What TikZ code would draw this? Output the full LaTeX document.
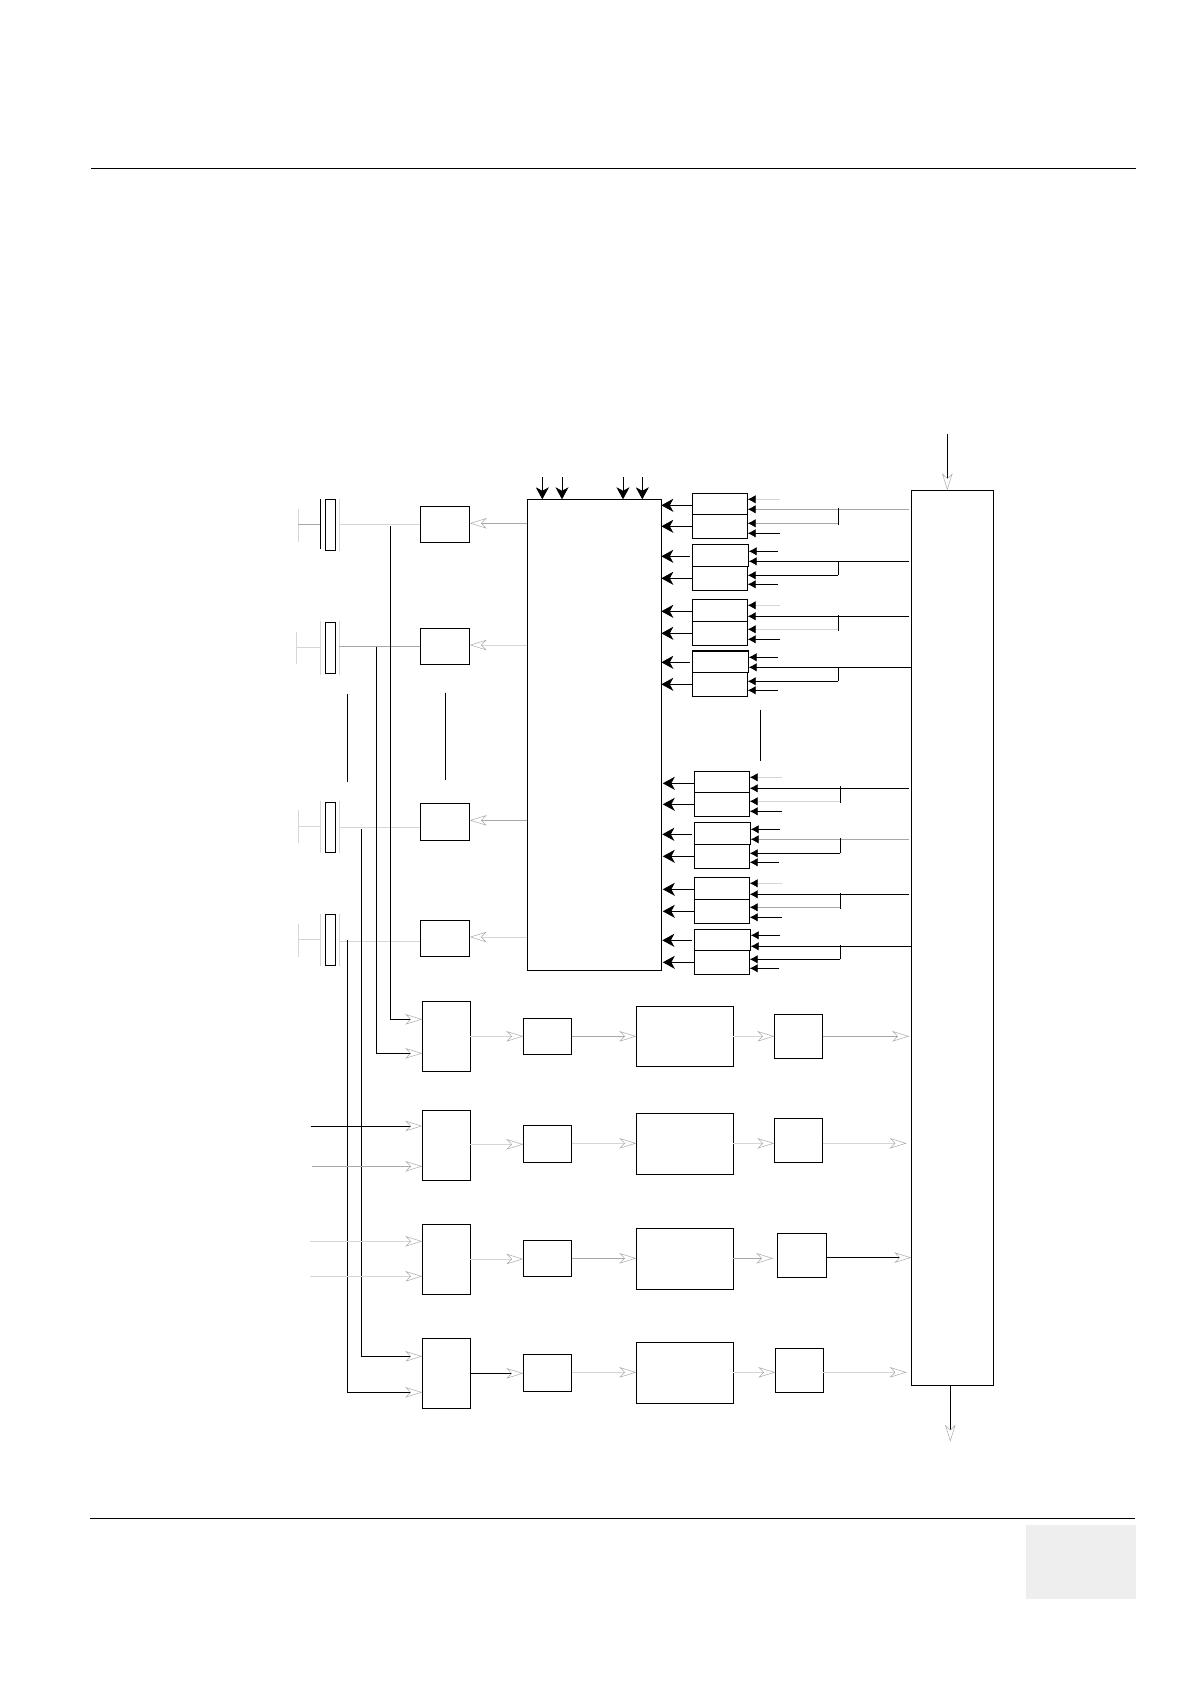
\documentclass[tikz,border=0pt]{standalone}
\usetikzlibrary{arrows.meta}
\definecolor{lite}{gray}{0.84}
\definecolor{mid}{gray}{0.66}
\definecolor{tabgray}{gray}{0.935}
\newcommand{\bx}[5]{% name x1 y1 x2 y2
  \pgfmathsetlengthmacro{\bxw}{(#4-#2)*1pt}%
  \pgfmathsetlengthmacro{\bxh}{(#5-#3)*1pt}%
  \node[blockbox,minimum width=\bxw,minimum height=\bxh] (#1) at ({(#2+#4)/2},{(#3+#5)/2}) {};}
\tikzset{
  blockbox/.style={draw=black,line width=0.85pt,fill=none,inner sep=0pt,outer sep=0pt},
  wire/.style={draw=black,line width=0.85pt},
  rulewire/.style={draw=black,line width=1.1pt},
  litewire/.style={draw=lite,line width=0.8pt},
  midwire/.style={draw=mid,line width=0.8pt},
  solidtip/.style={-{Stealth[length=12pt,width=13pt,inset=3.5pt,black]}},
  smalltip/.style={-{Latex[length=8pt,width=8.5pt,black]}},
  opentip/.style={-{Stealth[open,length=17pt,width=10.5pt,inset=5pt,color=mid,line width=0.5pt]}},
}
\begin{document}
\begin{tikzpicture}[x=1pt,y=-1pt]
\useasboundingbox (0,0) rectangle (1190,1684);
% page rules and tab
\coordinate (ruleTL) at (91,168.3);
\coordinate (ruleTR) at (1136,168.3);
\coordinate (ruleBL) at (90,1518.3);
\coordinate (ruleBR) at (1135,1518.3);
\draw[rulewire] (ruleTL) -- (ruleTR);
\draw[rulewire] (ruleBL) -- (ruleBR);
\node[fill=tabgray,draw=none,inner sep=0pt,minimum width=110pt,minimum height=74pt] (tab) at (1081,1562) {};

% main blocks
\bx{dsp}{527.3}{499.3}{661.3}{970.3}
\bx{ctl}{911.3}{490.3}{993.3}{1385.3}

% transducer elements
\bx{e1}{325.3}{499.3}{335.7}{550.3}
\bx{e2}{325.3}{622.3}{335.7}{673.3}
\bx{e3}{325.3}{802.3}{335.7}{852.3}
\bx{e4}{325.3}{914.3}{335.7}{965.7}
% drivers
\bx{d1}{420.3}{506.3}{469.7}{542.3}
\bx{d2}{420.3}{628.3}{469.7}{664.3}
\bx{d3}{420.3}{803.3}{469.7}{840.3}
\bx{d4}{420.3}{920.3}{469.7}{956.3}

% plates beside the elements
\coordinate (p1lt) at (320.3,499); \coordinate (p1lb) at (320.3,549);
\coordinate (p1rt) at (339.3,499); \coordinate (p1rb) at (339.3,551);
\coordinate (p2lt) at (320.3,621); \coordinate (p2lb) at (320.3,675);
\coordinate (p2rt) at (339.3,621); \coordinate (p2rb) at (339.3,675);
\coordinate (p3lt) at (320.3,801); \coordinate (p3lb) at (320.3,853);
\coordinate (p3rt) at (339.3,801); \coordinate (p3rb) at (339.3,853);
\coordinate (p4lt) at (320.3,914); \coordinate (p4lb) at (320.3,966);
\coordinate (p4rt) at (339.3,914); \coordinate (p4rb) at (339.3,966);
\draw[wire] (p1lt) -- (p1lb);
\foreach \n in {p1r,p2l,p2r,p3l,p3r,p4l,p4r} \draw[litewire] (\n t) -- (\n b);
% left T stubs
\coordinate (t1t) at (298.3,509); \coordinate (t1b) at (298.3,542); \coordinate (t1m) at (298.3,524.3);
\coordinate (t2t) at (296.3,632); \coordinate (t2b) at (296.3,664); \coordinate (t2m) at (296.3,647.3);
\coordinate (t3t) at (298.3,810); \coordinate (t3b) at (298.3,843.3); \coordinate (t3m) at (298.3,826.7);
\coordinate (t4t) at (298.3,924); \coordinate (t4b) at (298.3,956.7); \coordinate (t4m) at (298.3,939.3);
\foreach \n in {1,2,3,4} \draw[litewire] (t\n t) -- (t\n b);
\draw[midwire] (t1m) -- (p1lt |- t1m);
\draw[litewire] (t2m) -- (p2lt |- t2m);
\draw[litewire] (t3m) -- (p3lt |- t3m);
\draw[litewire] (t4m) -- (p4lt |- t4m);
% plate to driver
\draw[litewire] (p1rt |- 0,524.7) -- (d1.west |- 0,524.7);
\draw[midwire] (p2rt |- 0,646.7) -- (d2.west |- 0,646.7);
\draw[litewire] (p3rt |- 0,827.3) -- (d3.west |- 0,827.3);
\draw[litewire] (p4rt |- 0,941) -- (d4.west |- 0,941);
% dsp to drivers
\draw[midwire,opentip] (dsp.west |- 0,523.3) -- (d1.east |- 0,523.3);
\draw[litewire,opentip] (dsp.west |- 0,645) -- (d2.east |- 0,645);
\draw[midwire,opentip] (dsp.west |- 0,820.3) -- (d3.east |- 0,820.3);
\draw[litewire,opentip] (dsp.west |- 0,937) -- (d4.east |- 0,937);

% top inputs of dsp
\foreach \x/\n in {542.3/a,562/b,623/c,642.3/d}{
  \coordinate (top\n) at (\x,477.3);
  \draw[wire,solidtip] (top\n) -- (top\n |- dsp.north);
}

% continuation marks
\coordinate (m1a) at (347.3,694); \coordinate (m1b) at (347.3,781.7);
\coordinate (m2a) at (445.3,692.7); \coordinate (m2b) at (445.3,780);
\coordinate (m3a) at (760.3,709.7); \coordinate (m3b) at (760.3,761);
\draw[wire] (m1a) -- (m1b);
\draw[wire] (m2a) -- (m2b);
\draw[wire] (m3a) -- (m3b);

% amp rows
\bx{m1}{422.3}{1001.3}{470.3}{1071.3}
\bx{m2}{422.3}{1110.3}{470.3}{1180.3}
\bx{m3}{422.3}{1224.3}{470.3}{1294.3}
\bx{m4}{422.3}{1338.3}{470.3}{1408.3}
\bx{s1}{523.3}{1018.3}{571.7}{1054.3}
\bx{s2}{523.3}{1125.3}{571.7}{1162.3}
\bx{s3}{523.3}{1240.3}{571.7}{1276.3}
\bx{s4}{523.3}{1354.3}{571.7}{1391.3}
\bx{l1}{636.3}{1006.3}{733.3}{1066.3}
\bx{l2}{636.3}{1113.3}{733.3}{1174.3}
\bx{l3}{636.3}{1228.3}{733.3}{1289.3}
\bx{l4}{636.3}{1342.3}{733.3}{1403.3}
\bx{r1}{774.3}{1014.3}{822.7}{1058.3}
\bx{r2}{774.3}{1118.3}{822.7}{1162.3}
\bx{r3}{777.3}{1233.3}{826.3}{1277.3}
\bx{r4}{775.3}{1348.3}{823.3}{1392.3}

% bus lines from the plates into the amps
\coordinate (b1) at (390.3,526);
\coordinate (b2) at (376.3,646.7);
\coordinate (b3) at (361.3,829);
\coordinate (b4) at (347.3,940.3);
\draw[wire,opentip] (b1) -- (b1 |- 0,1019.3) -- (m1.west |- 0,1019.3);
\draw[wire,opentip] (b2) -- (b2 |- 0,1053.3) -- (m1.west |- 0,1053.3);
\draw[wire,opentip] (b3) -- (b3 |- 0,1356.3) -- (m4.west |- 0,1356.3);
\draw[wire,opentip] (b4) -- (b4 |- 0,1392.3) -- (m4.west |- 0,1392.3);
% external amp inputs
\coordinate (x2a) at (310.7,1126); \coordinate (x2b) at (312,1166.3);
\coordinate (x3a) at (310,1241.3); \coordinate (x3b) at (310,1276.3);
\draw[wire,opentip] (x2a) -- (m2.west |- x2a);
\draw[midwire,opentip] (x2b) -- (m2.west |- x2b);
\draw[litewire,opentip] (x3a) -- (m3.west |- x3a);
\draw[litewire,opentip] (x3b) -- (m3.west |- x3b);

% row links
\draw[litewire,opentip] (m1.east |- 0,1036.3) -- (s1.west |- 0,1036.3);
\draw[litewire,opentip] (m2.east |- 0,1144.3) -- (s2.west |- 0,1144.3);
\draw[litewire,opentip] (m3.east |- 0,1259) -- (s3.west |- 0,1259);
\draw[wire,opentip] (m4.east |- 0,1373.3) -- (s4.west |- 0,1373.3);
\draw[midwire,opentip] (s1.east |- 0,1036.3) -- (l1.west |- 0,1036.3);
\draw[litewire,opentip] (s2.east |- 0,1143.3) -- (l2.west |- 0,1143.3);
\draw[midwire,opentip] (s3.east |- 0,1258.3) -- (l3.west |- 0,1258.3);
\draw[litewire,opentip] (s4.east |- 0,1372.3) -- (l4.west |- 0,1372.3);
\draw[litewire,opentip] (l1.east |- 0,1036.3) -- (r1.west |- 0,1036.3);
\draw[litewire,opentip] (l2.east |- 0,1143.3) -- (r2.west |- 0,1143.3);
\draw[midwire,opentip] (l3.east |- 0,1258.3) -- ([xshift=-4pt]r3.west |- 0,1258.3);
\draw[litewire,opentip] (l4.east |- 0,1372.3) -- (r4.west |- 0,1372.3);
\draw[midwire,opentip] (r1.east |- 0,1036.3) -- ([xshift=-2pt]ctl.west |- 0,1036.3);
\draw[litewire,opentip] (r2.east |- 0,1143.3) -- ([xshift=-4.6pt]ctl.west |- 0,1143.3);
\draw[wire,opentip] (r3.east |- 0,1257.6) -- (ctl.west |- 0,1257.6);
\draw[litewire,opentip] (r4.east |- 0,1372.3) -- ([xshift=-4.6pt]ctl.west |- 0,1372.3);

% control block in / out
\coordinate (ctlin) at (947.3,434);
\coordinate (ctlout) at (950.3,1441.7);
\draw[wire,opentip] (ctlin) -- (ctlin |- ctl.north);
\draw[wire,opentip] (ctl.south -| ctlout) -- (ctlout);

% register groups
\bx{g1a}{692.3}{493.3}{747.7}{514.3}  \bx{g1b}{692.3}{514.3}{747.7}{538.3}
\bx{g2a}{692.3}{544.3}{748.7}{566.3}  \bx{g2b}{692.3}{566.3}{747.7}{590.3}
\bx{g3a}{692.3}{599.3}{747.7}{621.3}  \bx{g3b}{692.3}{621.3}{747.7}{645.3}
\bx{g4a}{692.3}{650.9}{748.7}{672.3}  \bx{g4b}{692.3}{672.3}{747.7}{696.3}
\bx{g5a}{694.3}{771.3}{749.7}{792.3}  \bx{g5b}{694.3}{792.3}{749.7}{816.3}
\bx{g6a}{694.3}{822.3}{750.7}{844.3}  \bx{g6b}{694.3}{844.3}{749.7}{868.3}
\bx{g7a}{694.3}{877.3}{749.7}{899.3}  \bx{g7b}{694.3}{899.3}{749.7}{923.3}
\bx{g8a}{694.3}{929.3}{750.7}{950.3}  \bx{g8b}{694.3}{950.3}{749.7}{974.3}
\draw[line width=1.6pt] (g4a.north west) -- (g4a.north east);

% outputs to dsp
\foreach \g/\y in {g1a/505.3,g1b/526.3,g2b/578.3,g3a/611.3,g3b/633.3,g4b/684.3}
  \draw[wire,solidtip] (\g.west |- 0,\y) -- (dsp.east |- 0,\y);
\foreach \g/\y in {g5a/783.3,g5b/804.3,g6b/856.3,g7a/889.3,g7b/911.3,g8b/962.3}
  \draw[wire,solidtip] (\g.west |- 0,\y) -- ([xshift=1.5pt]dsp.east |- 0,\y);
\draw[wire,solidtip] ([xshift=-2.5pt]g2a.west |- 0,556.3) -- (dsp.east |- 0,556.3);
\draw[wire,solidtip] ([xshift=-2.5pt]g4a.west |- 0,662.3) -- (dsp.east |- 0,662.3);
\draw[wire,solidtip] ([xshift=-2.5pt]g6a.west |- 0,834.3) -- ([xshift=1pt]dsp.east |- 0,834.3);
\draw[wire,solidtip] ([xshift=-2.5pt]g8a.west |- 0,940.3) -- ([xshift=1pt]dsp.east |- 0,940.3);

% short free inputs: group/y/free-end x/style
\foreach \g/\y/\xe/\st in {
  g1a/499.3/780/litewire, g1b/533.3/780/wire,
  g2a/551.3/778/wire, g2b/584.3/778/wire,
  g3a/605.3/780/litewire, g3b/639.3/780/wire,
  g4a/657.3/778/wire, g4b/690.3/778/wire,
  g5a/777.3/782/litewire, g5b/811.3/782/wire,
  g6a/829.3/780/wire, g6b/862.3/779/wire,
  g7a/883.3/782/litewire, g7b/917.3/782/wire,
  g8a/935.3/780/wire, g8b/968.3/779/wire}
{
  \coordinate (fr) at (\xe,\y);
  \draw[\st,smalltip] (fr) -- (\g.east |- fr);
}

% control lines to the register groups
\foreach \g/\y/\st in {
  g1a/509.3/midwire, g2a/561.3/wire, g3a/616.3/wire,
  g5a/788.3/wire, g6a/839.3/midwire, g7a/894.3/wire}
  \draw[\st,smalltip] ([xshift=-2pt]ctl.west |- 0,\y) -- (\g.east |- 0,\y);
\draw[wire,smalltip] (ctl.west |- 0,667.3) -- (g4a.east |- 0,667.3);
\draw[wire,smalltip] (ctl.west |- 0,946.3) -- (g8a.east |- 0,946.3);

% junction risers
\foreach \x/\yt/\yb in {
  838.3/508.3/525, 838.3/561/575.3, 838.3/615/631, 838.3/667.3/681.3,
  840.3/786/803, 840.3/838/853.3, 840.3/893/909, 840.3/945/959.3}
{
  \coordinate (ja) at (\x,\yt);
  \coordinate (jb) at (\x,\yb);
  \draw[wire] (ja) -- (jb);
}
% branch lines from the risers
\foreach \g/\x/\y/\st in {
  g1b/838.3/523.3/midwire, g2b/838.3/575.3/wire, g3b/838.3/629.3/litewire, g4b/838.3/681.3/wire,
  g5b/840.3/801.3/litewire, g6b/840.3/853.3/wire, g7b/840.3/907.3/midwire, g8b/840.3/959.3/wire}
{
  \coordinate (jc) at (\x,\y);
  \draw[\st,smalltip] (jc) -- (\g.east |- jc);
}
\end{tikzpicture}
\end{document}
